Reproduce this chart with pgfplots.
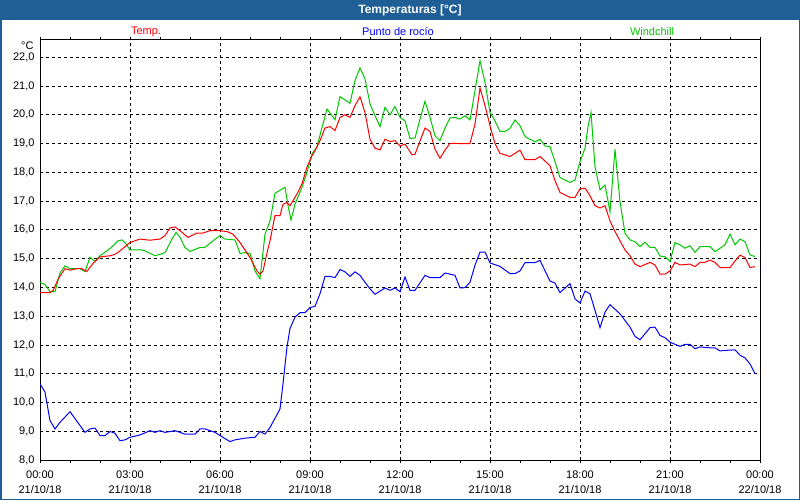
\documentclass[border=0pt]{standalone}
\usepackage{fontspec}
\setmainfont{Liberation Sans}
\usepackage{pgfplots}
\pgfplotsset{compat=1.18}

\definecolor{barblue}{RGB}{31,95,150}
\definecolor{wgreen}{RGB}{0,200,0}

\begin{document}
\begin{tikzpicture}[font=\fontsize{11bp}{13bp}\selectfont]
% frame and title bar
\fill[white] (0,0) rectangle (800bp,500bp);
\fill[barblue] (0,480bp) rectangle (800bp,500bp);
\draw[barblue, line width=1.5bp] (0.75bp,0.75bp) rectangle (799.25bp,499.25bp);
\node[text=white, font=\fontsize{12bp}{14bp}\selectfont\bfseries] at (410bp,490bp) {Temperaturas [°C]};
% series names
\node[text=red] at (146bp,468bp) {Temp.};
\node[text=blue] at (398bp,468bp) {Punto de rocío};
\node[text=wgreen] at (652bp,468bp) {Windchill};
\node[anchor=east] at (37bp,454bp) {°C};

\begin{axis}[
  at={(40bp,40bp)}, anchor=south west,
  scale only axis, width=720bp, height=420bp,
  xmin=0, xmax=24, ymin=8, ymax=22.6,
  xtick={0,3,...,24},
  minor xtick={1,2,4,5,7,8,10,11,13,14,16,17,19,20,22,23},
  xticklabels={00:00\\21/10/18,03:00\\21/10/18,06:00\\21/10/18,09:00\\21/10/18,12:00\\21/10/18,15:00\\21/10/18,18:00\\21/10/18,21:00\\21/10/18,00:00\\22/10/18},
  xticklabel style={align=center, font=\fontsize{11bp}{15bp}\selectfont, yshift=-4bp},
  ytick={8,9,...,22},
  yticklabel style={font=\fontsize{11bp}{13bp}\selectfont, xshift=1bp,
    /pgf/number format/fixed, /pgf/number format/fixed zerofill,
    /pgf/number format/precision=1, /pgf/number format/use comma,
    /pgf/number format/assume math mode=true},
  tick align=outside,
  major tick length=3bp, minor tick length=3bp,
  x tick style={black, line width=0.8bp},
  y tick style={draw=none},
  xmajorgrids, ymajorgrids,
  major grid style={black, line width=0.8bp, dash pattern=on 3bp off 3bp},
  axis line style={black, line width=1bp},
  every axis plot/.append style={line width=1bp, line join=miter},
]
% Windchill
\addplot[wgreen, mark=none] coordinates {
(0,14.17) (0.167,14.1) (0.333,13.85) (0.5,13.85) (0.667,14.5) (0.833,14.75) (1.0,14.65) (1.333,14.65) (1.5,14.55) (1.667,15.05) (1.833,14.9) (2.0,15.1) (2.233,15.27) (2.433,15.44) (2.6,15.62) (2.733,15.65) (2.833,15.56) (3.0,15.3) (3.333,15.31) (3.5,15.27) (3.833,15.1) (4.0,15.15) (4.167,15.21) (4.4,15.68) (4.533,15.91) (4.667,15.74) (4.833,15.39) (5.0,15.25) (5.333,15.39) (5.5,15.39) (5.767,15.62) (6.0,15.8) (6.167,15.68) (6.5,15.65) (6.667,15.18) (6.833,15.21) (7.0,15.18) (7.167,14.57) (7.333,14.3) (7.5,15.85) (7.667,16.31) (7.833,17.27) (8.167,17.48) (8.267,16.84) (8.367,16.34) (8.5,16.89) (8.733,17.48) (8.9,18.0) (9.067,18.64) (9.233,18.89) (9.4,19.56) (9.567,20.2) (9.833,19.83) (10.0,20.63) (10.333,20.4) (10.5,21.19) (10.667,21.63) (10.833,21.25) (11.0,20.38) (11.167,19.97) (11.333,19.59) (11.5,20.26) (11.667,20.0) (11.833,20.29) (12.0,19.91) (12.167,19.79) (12.333,19.18) (12.5,19.19) (12.667,19.85) (12.833,20.47) (13.0,19.91) (13.167,19.27) (13.333,19.1) (13.5,19.54) (13.667,19.89) (13.833,19.91) (14.0,19.85) (14.167,19.97) (14.333,19.82) (14.5,20.84) (14.667,21.88) (14.833,21.13) (15.0,20.08) (15.167,19.79) (15.333,19.42) (15.5,19.42) (15.667,19.53) (15.833,19.82) (16.0,19.62) (16.167,19.24) (16.5,19.06) (16.667,19.15) (16.833,18.92) (17.0,18.89) (17.167,18.37) (17.333,17.82) (17.5,17.73) (17.667,17.65) (17.833,17.73) (18.0,18.37) (18.167,18.84) (18.267,19.59) (18.367,20.08) (18.5,18.2) (18.667,17.39) (18.833,17.56) (19.0,16.63) (19.167,18.8) (19.333,16.98) (19.5,15.88) (19.667,15.65) (19.833,15.59) (20.0,15.42) (20.167,15.57) (20.333,15.39) (20.5,15.39) (20.667,15.09) (20.833,15.07) (21.0,14.9) (21.167,15.56) (21.333,15.48) (21.5,15.36) (21.667,15.45) (21.833,15.22) (22.0,15.42) (22.333,15.42) (22.5,15.24) (22.667,15.36) (22.833,15.48) (23.0,15.85) (23.167,15.48) (23.333,15.68) (23.5,15.59) (23.667,15.13) (23.833,15.07)
};
% Temp.
\addplot[red, mark=none] coordinates {
(0,13.82) (0.333,13.82) (0.44,13.9) (0.61,14.3) (0.833,14.65) (1.0,14.6) (1.22,14.65) (1.39,14.65) (1.56,14.55) (1.78,14.85) (2.0,15.06) (2.333,15.1) (2.5,15.15) (2.667,15.27) (3.0,15.56) (3.333,15.68) (3.667,15.64) (4.0,15.68) (4.167,15.8) (4.333,16.07) (4.5,16.1) (4.667,15.97) (4.933,15.74) (5.233,15.89) (5.433,15.89) (5.667,15.97) (6.0,15.97) (6.233,15.94) (6.433,15.85) (6.667,15.56) (7.0,15.04) (7.233,14.57) (7.333,14.46) (7.433,14.57) (7.567,15.2) (7.667,15.62) (7.833,16.5) (8.0,16.49) (8.1,16.89) (8.233,16.95) (8.333,16.84) (8.567,17.25) (8.733,17.6) (8.9,18.18) (9.067,18.58) (9.167,18.75) (9.333,19.1) (9.5,19.54) (9.667,19.59) (9.833,19.45) (10.0,19.91) (10.167,20.0) (10.333,19.91) (10.5,20.32) (10.667,20.63) (10.833,20.08) (11.0,19.15) (11.167,18.84) (11.333,18.78) (11.5,19.15) (11.667,19.07) (11.833,19.1) (12.0,18.92) (12.167,18.98) (12.4,18.61) (12.5,18.63) (12.733,19.27) (12.833,19.54) (13.0,19.42) (13.167,18.8) (13.333,18.49) (13.5,18.77) (13.667,19.01) (14.0,19.0) (14.333,19.0) (14.5,19.68) (14.667,20.93) (14.833,20.32) (15.0,19.62) (15.167,19.0) (15.333,18.66) (15.667,18.55) (16.0,18.77) (16.167,18.44) (16.5,18.44) (16.667,18.55) (17.0,18.23) (17.167,17.71) (17.333,17.3) (17.667,17.13) (17.833,17.13) (18.0,17.42) (18.167,17.45) (18.333,17.19) (18.5,16.84) (18.667,16.76) (18.833,16.84) (19.0,16.31) (19.167,15.94) (19.333,15.62) (19.5,15.3) (19.667,15.1) (19.833,14.81) (20.0,14.72) (20.333,14.87) (20.5,14.78) (20.667,14.46) (20.833,14.46) (21.0,14.57) (21.167,14.87) (21.333,14.78) (21.667,14.81) (21.833,14.72) (22.0,14.87) (22.167,14.87) (22.333,14.95) (22.5,14.87) (22.667,14.69) (23.0,14.69) (23.167,14.92) (23.333,15.12) (23.5,15.04) (23.667,14.69) (23.833,14.72)
};
% Punto de rocio
\addplot[blue, mark=none] coordinates {
(0,10.65) (0.167,10.36) (0.333,9.37) (0.5,9.08) (0.667,9.31) (1.0,9.68) (1.333,9.2) (1.5,8.96) (1.667,9.08) (1.833,9.11) (2.0,8.85) (2.167,8.85) (2.333,8.99) (2.5,8.93) (2.667,8.67) (2.833,8.7) (3.0,8.79) (3.333,8.87) (3.667,9.02) (3.833,8.96) (4.0,9.02) (4.167,8.96) (4.5,9.02) (4.833,8.9) (5.167,8.9) (5.333,9.08) (5.5,9.08) (5.833,8.96) (6.0,8.85) (6.333,8.64) (6.5,8.7) (6.833,8.76) (7.167,8.79) (7.333,8.99) (7.5,8.9) (7.667,9.13) (8.0,9.77) (8.1,10.65) (8.233,11.93) (8.333,12.57) (8.5,12.97) (8.667,13.12) (8.833,13.12) (9.0,13.3) (9.167,13.34) (9.333,13.78) (9.5,14.38) (9.667,14.38) (9.833,14.34) (10.0,14.62) (10.167,14.54) (10.333,14.38) (10.5,14.54) (10.667,14.42) (10.833,14.18) (11.0,13.95) (11.167,13.76) (11.333,13.87) (11.5,13.98) (11.667,13.9) (11.833,13.98) (12.0,13.85) (12.167,14.36) (12.333,13.9) (12.5,13.9) (12.833,14.42) (13.0,14.34) (13.333,14.34) (13.5,14.5) (13.833,14.42) (14.0,13.98) (14.167,13.99) (14.333,14.18) (14.5,14.77) (14.667,15.23) (14.833,15.23) (15.0,14.85) (15.333,14.73) (15.667,14.48) (15.833,14.48) (16.0,14.57) (16.167,14.86) (16.5,14.86) (16.667,14.94) (17.0,14.22) (17.167,14.15) (17.333,13.82) (17.667,14.13) (17.833,13.6) (18.0,13.46) (18.167,13.87) (18.333,13.78) (18.5,13.2) (18.667,12.6) (18.833,13.14) (19.0,13.4) (19.333,13.08) (19.667,12.62) (19.833,12.3) (20.0,12.18) (20.167,12.39) (20.333,12.6) (20.5,12.62) (20.667,12.33) (20.833,12.25) (21.0,12.1) (21.167,12.02) (21.333,11.95) (21.5,12.02) (21.667,12.02) (21.833,11.87) (22.0,11.93) (22.333,11.9) (22.5,11.9) (22.667,11.79) (22.833,11.81) (23.167,11.83) (23.333,11.64) (23.5,11.55) (23.667,11.34) (23.833,11.0)
};
\end{axis}
\end{tikzpicture}
\end{document}
